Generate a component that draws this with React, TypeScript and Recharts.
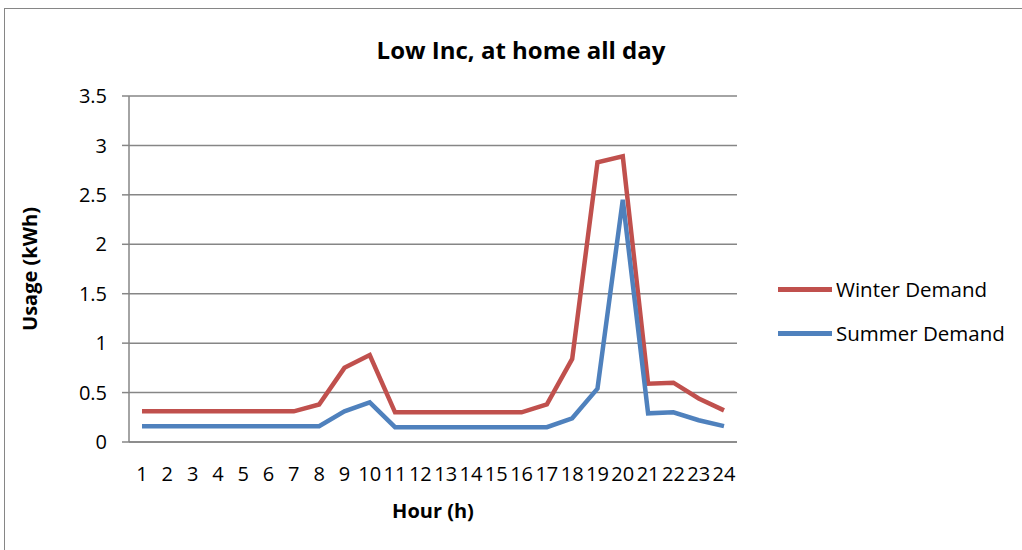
import { LineChart, Line, XAxis, YAxis, CartesianGrid } from "recharts";

const hours = ["1", "2", "3", "4", "5", "6", "7", "8", "9", "10", "11", "12", "13", "14", "15", "16", "17", "18", "19", "20", "21", "22", "23", "24"];
const winterDemand = [0.31, 0.31, 0.31, 0.31, 0.31, 0.31, 0.31, 0.38, 0.75, 0.88, 0.3, 0.3, 0.3, 0.3, 0.3, 0.3, 0.38, 0.84, 2.83, 2.89, 0.59, 0.6, 0.44, 0.32];
const summerDemand = [0.16, 0.16, 0.16, 0.16, 0.16, 0.16, 0.16, 0.16, 0.31, 0.4, 0.15, 0.15, 0.15, 0.15, 0.15, 0.15, 0.15, 0.24, 0.54, 2.45, 0.29, 0.3, 0.22, 0.16];
const yTicks = [0, 0.5, 1, 1.5, 2, 2.5, 3, 3.5];
const seriesNames = ["Winter Demand", "Summer Demand"];
const seriesColors = ["#C0504D", "#4F81BD"];

const data = hours.map((h, i) => ({ hour: h, winter: winterDemand[i], summer: summerDemand[i] }));

const FONT = "'Open Sans', sans-serif";

export default function App() {
  return (
    <div style={{ position: "absolute", left: 0, top: 0, width: 1022, height: 550, background: "#fff", fontFamily: FONT, overflow: "hidden" }}>
      {/* chart frame, cropped on the right and bottom like the source */}
      <div style={{ position: "absolute", left: 4, top: 8, width: 1030, height: 600, border: "1.5px solid #868686" }} />
      <div style={{ position: "absolute", left: 0, top: 33, width: 1042, textAlign: "center", fontWeight: 700, fontSize: 24 }}>
        Low Inc, at home all day
      </div>

      {/* legend, Excel style */}
      <div style={{ position: "absolute", left: 778, top: 267 }}>
        {seriesNames.map((name, i) => (
          <div key={name} style={{ display: "flex", alignItems: "center", height: 44 }}>
            <div style={{ width: 54, height: 5, background: seriesColors[i], marginRight: 4 }} />
            <span style={{ fontSize: 20.5, color: "#000" }}>{name}</span>
          </div>
        ))}
      </div>

      <div style={{ position: "absolute", left: 0, top: 0 }}>
        <LineChart width={1022} height={550} data={data} margin={{ top: 96, right: 285, bottom: 32, left: 0 }}>
          <CartesianGrid vertical={false} stroke="#868686" strokeWidth={1.5} />
          <XAxis
            dataKey="hour"
            stroke="#868686"
            strokeWidth={1.5}
            tickLine={false}
            tickMargin={19}
            height={76}
            interval={0}
            padding={{ left: 13, right: 13 }}
            tick={{ fill: "#000", fontSize: 20, fontFamily: FONT }}
            label={{ value: "Hour (h)", position: "insideBottom", offset: 0, style: { fill: "#000", fontSize: 20, fontWeight: 700, fontFamily: FONT } }}
          />
          <YAxis
            domain={[0, 3.5]}
            ticks={yTicks}
            width={129}
            stroke="#868686"
            strokeWidth={1.5}
            tickSize={7}
            tickMargin={15}
            tick={{ fill: "#000", fontSize: 20, fontFamily: FONT }}
            label={{ value: "Usage (kWh)", angle: -90, position: "insideLeft", offset: 30, style: { textAnchor: "middle", fill: "#000", fontSize: 20, fontWeight: 700, fontFamily: FONT } }}
          />
          <Line type="linear" dataKey="winter" stroke={seriesColors[0]} strokeWidth={4.5} dot={false} isAnimationActive={false} />
          <Line type="linear" dataKey="summer" stroke={seriesColors[1]} strokeWidth={4.5} dot={false} isAnimationActive={false} />
        </LineChart>
      </div>
    </div>
  );
}
